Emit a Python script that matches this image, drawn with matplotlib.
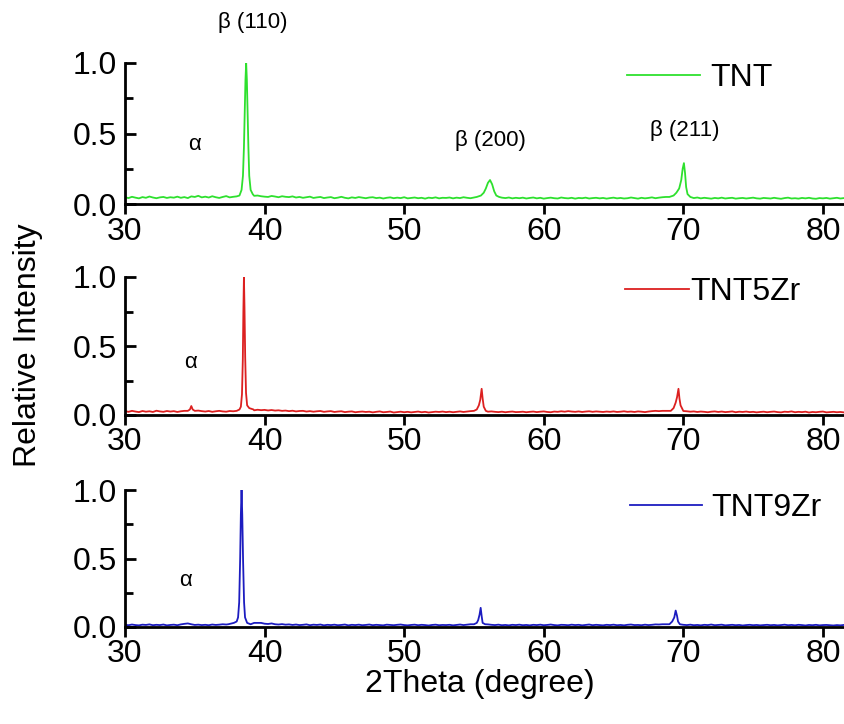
import numpy as np
import matplotlib
matplotlib.use("Agg")
import matplotlib.pyplot as plt
from matplotlib.ticker import MultipleLocator

plt.rcParams['font.family'] = ['Liberation Sans', 'DejaVu Sans']

# background noise, intensity in % of the strongest peak, 0.25 deg steps from 30.0
X0, STEP = 30.0, 0.25

tnt_bg = [
    4.8, 4.2, 5.1, 4.5, 4.0, 4.9, 4.4, 5.3, 4.6, 4.1, 4.7, 5.0, 4.3, 4.8, 4.5, 5.2, 4.4, 4.9, 4.2, 5.4, 5.0, 5.8, 4.7,
    5.2, 4.6, 5.5, 4.8, 4.3, 5.0, 5.6, 4.7, 5.1, 5.4, 5.0, 5.5, 5.2, 5.3, 5.8, 6.0, 5.5, 5.2, 5.0, 5.7, 5.3, 4.8, 5.5,
    5.1, 4.9, 5.4, 4.6, 5.0, 4.4, 4.8, 5.2, 4.3, 4.7, 5.0, 4.2, 4.6, 4.9, 4.1, 4.5, 5.1, 4.4, 4.0, 4.7, 4.3, 4.9, 4.5,
    4.1, 4.6, 4.8, 4.2, 4.5, 3.9, 4.4, 4.7, 4.1, 4.5, 4.2, 4.8, 4.0, 4.3, 4.6, 4.1, 4.4, 3.8, 4.5, 4.2, 4.7, 4.0, 4.4,
    4.3, 4.6, 4.0, 4.5, 4.2, 4.8, 4.4, 4.1, 4.6, 4.3, 4.9, 5.0, 5.2, 5.5, 5.0, 4.8, 4.5, 4.2, 4.6, 4.0, 4.4, 4.1, 4.5,
    3.9, 4.3, 4.6, 4.0, 4.4, 3.8, 4.2, 4.5, 4.1, 3.9, 4.6, 4.2, 4.0, 4.4, 3.8, 4.3, 4.1, 4.5, 3.9, 4.2, 4.4, 4.0, 4.3,
    3.8, 4.2, 4.5, 4.0, 4.3, 3.9, 4.1, 4.6, 4.2, 3.8, 4.4, 4.0, 4.3, 4.7, 4.1, 4.5, 4.8, 5.0, 5.2, 5.0, 5.0, 4.8, 4.6,
    4.3, 4.5, 4.2, 4.6, 4.0, 4.4, 4.1, 3.8, 4.3, 4.0, 4.5, 3.9, 4.2, 4.4, 3.8, 4.1, 4.3, 3.9, 4.2, 4.5, 4.0, 3.8, 4.3,
    4.1, 3.9, 4.4, 4.0, 3.7, 4.2, 4.5, 3.9, 4.1, 3.8, 4.3, 4.0, 4.4, 3.9, 3.7, 4.2, 4.0, 4.3, 3.8, 4.1, 4.4, 3.9, 4.2,
]
zr5_bg = [
    2.8, 2.3, 3.0, 2.5, 2.1, 2.9, 2.4, 2.7, 2.2, 3.1, 2.6, 2.3, 2.9, 2.5, 2.8, 2.2, 2.7, 3.0, 2.4, 2.6, 2.9, 3.2, 2.8,
    2.5, 2.9, 2.3, 2.7, 3.0, 2.6, 2.4, 2.9, 2.7, 3.1, 2.8, 3.3, 3.0, 2.9, 3.4, 3.8, 3.5, 3.7, 3.3, 3.6, 3.2, 3.4, 3.0,
    3.2, 2.8, 3.1, 2.6, 2.9, 3.0, 2.5, 2.8, 2.4, 2.7, 2.9, 2.3, 2.6, 2.8, 2.2, 2.5, 2.7, 2.1, 2.4, 2.6, 2.0, 2.3, 2.5,
    2.2, 2.4, 1.9, 2.3, 2.6, 2.0, 2.2, 2.5, 1.8, 2.1, 2.4, 2.0, 2.3, 1.9, 2.2, 2.5, 2.0, 2.3, 1.8, 2.1, 2.4, 2.2, 2.5,
    2.1, 2.4, 2.0, 2.3, 2.6, 2.2, 2.5, 2.8, 3.0, 2.6, 2.4, 2.7, 2.4, 2.6, 2.3, 2.1, 2.4, 2.0, 2.3, 2.5, 2.1, 2.2, 2.4,
    2.0, 2.3, 2.5, 2.1, 2.4, 2.6, 2.2, 2.0, 2.5, 2.3, 2.7, 2.4, 2.8, 2.5, 2.3, 2.6, 2.2, 2.5, 2.7, 2.3, 2.6, 2.4, 2.2,
    2.5, 2.3, 2.6, 2.2, 2.4, 2.7, 2.3, 2.5, 2.2, 2.6, 2.4, 2.1, 2.5, 2.8, 3.0, 2.8, 3.0, 3.0, 3.0, 3.0, 3.0, 3.2, 2.9,
    2.7, 2.4, 2.6, 2.2, 2.5, 2.3, 2.0, 2.4, 2.6, 2.2, 2.5, 2.1, 2.3, 2.6, 2.0, 2.4, 2.2, 2.5, 2.1, 2.3, 1.9, 2.2, 2.4,
    2.0, 2.3, 2.5, 2.1, 1.9, 2.4, 2.2, 2.6, 2.0, 2.3, 2.1, 2.4, 1.8, 2.2, 2.0, 2.3, 2.5, 1.9, 2.1, 2.3, 2.0, 2.2, 1.9,
]
zr9_bg = [
    1.6, 1.3, 1.8, 1.4, 1.2, 1.7, 1.5, 1.9, 1.3, 1.6, 1.4, 1.8, 1.2, 1.5, 1.7, 1.3, 1.9, 2.3, 2.6, 2.0, 1.5, 1.7, 1.4,
    1.6, 1.3, 1.8, 1.5, 1.7, 2.0, 1.8, 2.2, 2.0, 2.4, 2.3, 2.6, 3.0, 3.0, 3.0, 3.0, 3.0, 2.4, 2.2, 2.6, 2.0, 1.8, 2.1,
    1.7, 1.9, 1.5, 1.8, 1.4, 1.6, 1.9, 1.3, 1.7, 1.5, 1.8, 1.2, 1.6, 1.4, 1.7, 1.3, 1.5, 1.8, 1.2, 1.6, 1.4, 1.7, 1.3,
    1.5, 1.8, 1.3, 1.6, 1.4, 1.2, 1.7, 1.5, 1.3, 1.6, 1.8, 1.4, 1.2, 1.5, 1.7, 1.3, 1.6, 1.4, 1.1, 1.5, 1.7, 1.3, 1.5,
    1.4, 1.6, 1.2, 1.5, 1.8, 1.4, 1.7, 2.0, 2.0, 2.0, 2.0, 2.0, 1.9, 1.6, 1.4, 1.7, 1.3, 1.5, 1.2, 1.6, 1.4, 1.7, 1.3,
    1.5, 1.2, 1.6, 1.4, 1.7, 1.3, 1.5, 1.8, 1.4, 1.2, 1.6, 1.5, 1.3, 1.7, 1.4, 1.6, 1.2, 1.5, 1.8, 1.3, 1.6, 1.4, 1.2,
    1.6, 1.4, 1.7, 1.3, 1.5, 1.2, 1.6, 1.8, 1.4, 1.5, 1.3, 1.7, 1.4, 1.6, 1.9, 1.8, 2.0, 2.0, 2.0, 2.0, 2.0, 1.9, 1.6,
    1.4, 1.7, 1.3, 1.5, 1.2, 1.6, 1.4, 1.8, 1.3, 1.5, 1.7, 1.2, 1.4, 1.6, 1.3, 1.5, 1.1, 1.4, 1.6, 1.3, 1.5, 1.2, 1.4,
    1.6, 1.3, 1.5, 1.2, 1.4, 1.7, 1.3, 1.5, 1.2, 1.6, 1.4, 1.1, 1.5, 1.3, 1.6, 1.2, 1.4, 1.5, 1.3, 1.1, 1.4, 1.2, 1.5,
]

# peak profiles (2theta, intensity %)
tnt_110 = [(38.2, 6), (38.35, 10), (38.45, 20), (38.52, 40), (38.58, 65), (38.63, 88), (38.68, 100),
           (38.73, 88), (38.78, 65), (38.84, 40), (38.9, 20), (39.0, 10), (39.15, 7)]
tnt_200 = [(55.2, 5), (55.5, 6), (55.7, 8), (55.85, 11), (56.0, 15), (56.15, 17), (56.3, 14),
           (56.45, 9), (56.6, 6), (56.8, 5)]
tnt_211 = [(69.0, 5), (69.3, 6), (69.5, 8), (69.7, 11), (69.85, 17), (69.95, 25), (70.04, 29),
           (70.12, 22), (70.2, 12), (70.3, 7), (70.5, 5)]

zr5_alpha = [(34.5, 3), (34.65, 4), (34.75, 6.5), (34.85, 4), (35.0, 3)]
zr5_110 = [(38.0, 3), (38.2, 4), (38.3, 6), (38.38, 15), (38.44, 40), (38.48, 75), (38.52, 100),
           (38.56, 78), (38.61, 42), (38.67, 16), (38.75, 7), (38.9, 5), (39.2, 4)]
zr5_200 = [(55.0, 3), (55.2, 4), (55.35, 7), (55.45, 11), (55.55, 19), (55.62, 12), (55.7, 6), (55.85, 3)]
zr5_211 = [(69.1, 3), (69.3, 5), (69.45, 9), (69.55, 13), (69.65, 19), (69.72, 12), (69.8, 7), (69.95, 4)]

zr9_110 = [(37.4, 2), (37.8, 3), (38.0, 4), (38.1, 7), (38.18, 18), (38.25, 50), (38.3, 82), (38.35, 100),
           (38.4, 82), (38.46, 48), (38.53, 18), (38.6, 7), (38.75, 3), (39.0, 2)]
zr9_200 = [(55.0, 2), (55.2, 3), (55.3, 5), (55.4, 9), (55.48, 14), (55.55, 8), (55.62, 3), (55.8, 2)]
zr9_211 = [(69.0, 2), (69.2, 4), (69.35, 7), (69.45, 12), (69.55, 8), (69.62, 4), (69.75, 2)]

labels = ["TNT", "TNT5Zr", "TNT9Zr"]
colors = ["#2ee02e", "#dc2020", "#1c1cc0"]


def build(bg, peaks):
    x = X0 + STEP * np.arange(len(bg))
    y = np.array(bg, dtype=float)
    keep = np.ones(len(x), dtype=bool)
    px, py = [], []
    for pk in peaks:
        xs = [p[0] for p in pk]
        keep &= ~((x >= min(xs)) & (x <= max(xs)))
        px += xs
        py += [p[1] for p in pk]
    xx = np.concatenate([x[keep], px])
    yy = np.concatenate([y[keep], py])
    order = np.argsort(xx)
    return xx[order], yy[order] / 100.0


series = [
    build(tnt_bg, [tnt_110, tnt_200, tnt_211]),
    build(zr5_bg, [zr5_alpha, zr5_110, zr5_200, zr5_211]),
    build(zr9_bg, [zr9_110, zr9_200, zr9_211]),
]

fig = plt.figure(figsize=(8.45, 7.24), dpi=100)
W, H = 845.0, 724.0
# (top px, bottom px) of each panel
panel_px = [(63, 204), (277, 415), (490, 627)]
legend_pos = [(0.697, 0.894, 2.3, 0.3), (0.694, 0.891, 2.0, 0.05), (0.701, 0.869, 2.25, 0.3)]

axes = []
for i, (top, bot) in enumerate(panel_px):
    ax = fig.add_axes([125 / W, 1 - bot / H, 1 - 125 / W, (bot - top) / H])
    x, y = series[i]
    ax.plot(x, y, color=colors[i], lw=1.3, label=labels[i])
    ax.set_xlim(30, 81.58)
    ax.set_ylim(0, 1.0)
    for s in ["top", "right"]:
        ax.spines[s].set_visible(False)
    for s in ["left", "bottom"]:
        ax.spines[s].set_linewidth(2.0)
    ax.set_xticks([30, 40, 50, 60, 70, 80])
    ax.set_yticks([0, 0.5, 1.0])
    ax.set_yticklabels(["0.0", "0.5", "1.0"])
    ax.yaxis.set_minor_locator(MultipleLocator(0.25))
    ax.tick_params(axis="x", direction="out", length=7, width=2, labelsize=23, pad=2)
    ax.tick_params(axis="y", which="major", direction="in", length=8, width=2, labelsize=23, pad=6)
    ax.tick_params(axis="y", which="minor", direction="in", length=6, width=2)
    lx, ly, hl, hp = legend_pos[i]
    ax.legend(loc="center left", bbox_to_anchor=(lx, ly), frameon=False, fontsize=23,
              handlelength=hl, handletextpad=hp, borderpad=0, borderaxespad=0)
    axes.append(ax)

ax1, ax2, ax3 = axes
ax1.text(39.17, 1.29, "β (110)", fontsize=16, ha="center", va="center")
ax1.text(35.0, 0.42, "α", fontsize=16, ha="center", va="center")
ax1.text(56.15, 0.45, "β (200)", fontsize=16, ha="center", va="center")
ax1.text(70.1, 0.52, "β (211)", fontsize=16, ha="center", va="center")
ax2.text(34.66, 0.38, "α", fontsize=16, ha="center", va="center")
ax3.text(34.3, 0.34, "α", fontsize=16, ha="center", va="center")

fig.text(28 / W, 1 - 345 / H, "Relative Intensity", rotation=90, fontsize=23, ha="center", va="center")
fig.text(480 / W, 1 - 684 / H, "2Theta (degree)", fontsize=23, ha="center", va="center")

fig.savefig("out.png", dpi=100)
plt.close(fig)
